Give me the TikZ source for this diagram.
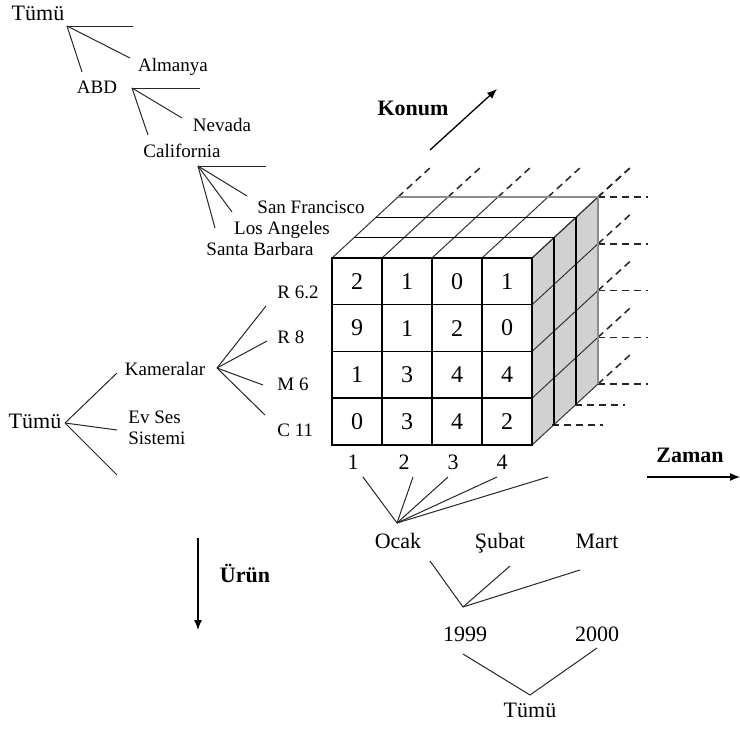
\documentclass[tikz,border=0pt]{standalone}
\usepackage{fontspec}
\setmainfont{Liberation Serif}
\usetikzlibrary{arrows.meta}

\definecolor{sidegray}{gray}{0.82}
\definecolor{edgegray}{gray}{0.55}

\tikzset{
  branch/.style={line width=0.5pt, draw=black!85},
  lbl/.style={inner sep=0pt, text height=1.5ex, text depth=.25ex, font=\fontsize{9.5}{10.5}\selectfont},
  biglbl/.style={inner sep=0pt, text height=1.5ex, text depth=.25ex, font=\fontsize{11}{13}\selectfont},
  axislbl/.style={inner sep=0pt, font=\fontsize{11}{13}\selectfont\bfseries},
  axisarrow/.style={-{Latex[length=5pt,width=4pt]}, line width=0.65pt},
  cell/.style={draw, line width=0.75pt, fill=white, minimum width=25pt, minimum height=23.375pt, inner sep=0pt, font=\fontsize{12}{14}\selectfont},
  depthline/.style={line width=0.5pt, draw=black!80},
  layerline/.style={line width=0.75pt},
  backedge/.style={line width=1.1pt, draw=edgegray},
  extline/.style={line width=0.75pt, draw=black!85, dash pattern=on 3.5pt off 2.5pt},
}

\begin{document}
\begin{tikzpicture}[x=0.5pt, y=-0.5pt]
  \useasboundingbox (0,0) rectangle (740,729);

  % cube
  \fill[sidegray] (532,258) -- (598,197) -- (598,384) -- (532,445) -- cycle;
  \foreach \i in {0,...,4} {
    \draw[depthline] ({332+50*\i},258) -- ({398+50*\i},197);
    \draw[extline] ({398+50*\i},197) -- ({431+50*\i},167);
    \draw[depthline] (532,{258+46.75*\i}) -- (598,{197+46.75*\i});
    \draw[extline] (598,{197+46.75*\i}) -- (631,{167+46.75*\i});
    \draw[extline] (598,{197+46.75*\i}) -- (648,{197+46.75*\i});
  }
  \draw[extline] (575,405) -- (625,405);
  \draw[extline] (552,425) -- (603,425);
  \foreach \k in {1,2}
    \draw[layerline] ({332+22*\k},{258-20.33*\k}) -- ({532+22*\k},{258-20.33*\k}) -- ({532+22*\k},{445-20.33*\k});
  \draw[backedge] (398,197) -- (598,197) -- (598,384);

  \foreach \r/\vals in {1/{2,1,0,1}, 2/{9,1,2,0}, 3/{1,3,4,4}, 4/{0,3,4,2}}
    \foreach \v [count=\c] in \vals
      \node[cell] (c\r\c) at ({307+50*\c},{234.6+46.75*\r}) {\v};

  % location
  \node[biglbl] (ltop) at (38,15) {Tümü};
  \coordinate (jloc1) at (67,26);
  \coordinate (jloc1-a) at (133,26);
  \coordinate (jloc1-b) at (130,58);
  \coordinate (jloc1-c) at (82,72);
  \node[lbl] (almanya) at (173,66) {Almanya};
  \node[lbl] (abd) at (97,88) {ABD};

  \coordinate (jloc2) at (132,88);
  \coordinate (jloc2-a) at (200,88);
  \coordinate (jloc2-b) at (182,118);
  \coordinate (jloc2-c) at (148,135);
  \node[lbl] (nevada) at (222,126) {Nevada};
  \node[lbl] (california) at (182,152) {California};

  \coordinate (jloc3) at (198,166);
  \coordinate (jloc3-a) at (266,166);
  \coordinate (jloc3-b) at (247,196);
  \coordinate (jloc3-c) at (232,212);
  \coordinate (jloc3-d) at (215,228);
  \node[lbl] (sanfran) at (311,208) {San Francisco};
  \node[lbl] (losang) at (282,229) {Los Angeles};
  \node[lbl] (santab) at (260,250) {Santa Barbara};

  \foreach \e in {a,b,c} \draw[branch] (jloc1) -- (jloc1-\e);
  \foreach \e in {a,b,c} \draw[branch] (jloc2) -- (jloc2-\e);
  \foreach \e in {a,b,c,d} \draw[branch] (jloc3) -- (jloc3-\e);

  % product
  \node[biglbl] (utop) at (35,423) {Tümü};
  \coordinate (jpro) at (65,423);
  \coordinate (jpro-a) at (117,373);
  \coordinate (jpro-b) at (117,430);
  \coordinate (jpro-c) at (117,475);
  \node[lbl] (kamera) at (165,370) {Kameralar};
  \node[lbl, text height=, text depth=, align=left, anchor=west] (evses) at (128,428) {Ev Ses\\Sistemi};

  \coordinate (jkam) at (217,368);
  \coordinate (jkam-a) at (266,306);
  \coordinate (jkam-b) at (267,341);
  \coordinate (jkam-c) at (263,385);
  \coordinate (jkam-d) at (265,415);
  \node[lbl, anchor=west] (r62) at (277,293) {R 6.2};
  \node[lbl, anchor=west] (r8) at (277,338) {R 8};
  \node[lbl, anchor=west] (m6) at (277,385) {M 6};
  \node[lbl, anchor=west] (c11) at (277,431) {C 11};

  \foreach \e in {a,b,c} \draw[branch] (jpro) -- (jpro-\e);
  \foreach \e in {a,b,c,d} \draw[branch] (jkam) -- (jkam-\e);

  % time
  \node[biglbl] (t1) at (353,464) {1};
  \node[biglbl] (t2) at (404,464) {2};
  \node[biglbl] (t3) at (453,464) {3};
  \node[biglbl] (t4) at (502,464) {4};
  \coordinate (jgun) at (397,523);
  \coordinate (jgun-a) at (363,477);
  \coordinate (jgun-b) at (413,477);
  \coordinate (jgun-c) at (448,477);
  \coordinate (jgun-d) at (497,477);
  \coordinate (jgun-e) at (548,477);
  \node[biglbl] (ocak) at (398,543) {Ocak};
  \node[biglbl] (subat) at (500,543) {Şubat};
  \node[biglbl] (mart) at (597,543) {Mart};

  \coordinate (jay) at (463,607);
  \coordinate (jay-a) at (430,561);
  \coordinate (jay-b) at (510,566);
  \coordinate (jay-c) at (580,570);
  \node[biglbl] (y1999) at (465,636) {1999};
  \node[biglbl] (y2000) at (597,636) {2000};

  \coordinate (jyil) at (530,695);
  \coordinate (jyil-a) at (463,654);
  \coordinate (jyil-b) at (597,648);
  \node[biglbl] (ttop) at (530,712) {Tümü};

  \foreach \e in {a,b,c,d,e} \draw[branch] (jgun) -- (jgun-\e);
  \foreach \e in {a,b,c} \draw[branch] (jay) -- (jay-\e);
  \foreach \e in {a,b} \draw[branch] (jyil) -- (jyil-\e);

  % axes
  \coordinate (konumfrom) at (430,150);
  \coordinate (konumto) at (497,89);
  \node[axislbl] (konum) at (413,108) {Konum};
  \draw[axisarrow] (konumfrom) -- (konumto);

  \coordinate (zamanfrom) at (647,477);
  \coordinate (zamanto) at (740,477);
  \node[axislbl] (zaman) at (690,455) {Zaman};
  \draw[axisarrow] (zamanfrom) -- (zamanto);

  \coordinate (urunfrom) at (198,538);
  \coordinate (urunto) at (198,630);
  \node[axislbl] (urun) at (245,573) {Ürün};
  \draw[axisarrow] (urunfrom) -- (urunto);
\end{tikzpicture}
\end{document}
